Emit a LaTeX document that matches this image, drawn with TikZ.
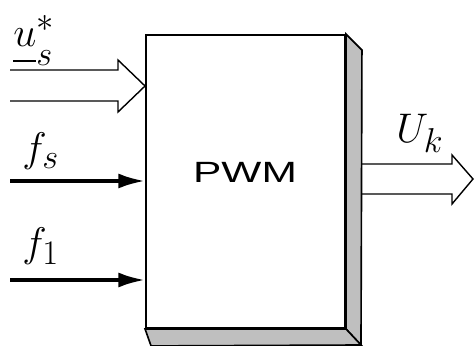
\documentclass[tikz,border=0pt]{standalone}
\usepackage{amsmath}
\usepackage{fontspec}
\newfontfamily\pwmfont{Liberation Sans}
\usepackage{tikz}
\usetikzlibrary{positioning, arrows.meta, calc}

\tikzset{
  sig/.style={line width=3.2pt, -{Latex[length=0.8cm, width=0.45cm]}},
  bus/.style={line width=1.2pt, line join=miter},
  lbl/.style={anchor=base west, inner sep=0pt, font=\Huge, scale=1.42}
}

\begin{document}
\begin{tikzpicture}[x=0.03cm, y=-0.03cm]
  \useasboundingbox (0, 0) rectangle (475, 346);

  \node[draw, line width=1.6pt, minimum width=5.97cm, minimum height=8.79cm, inner sep=0pt] (pwm) at (245.5, 181.5) {};
  \draw[line width=1.4pt, fill=gray!50] (pwm.north east) -- ++(16, 16) -- (361, 345) -- (pwm.south east) -- cycle;
  \draw[line width=1.4pt, fill=gray!50] (pwm.south west) -- ++(6, 17) -- (361, 345) -- (pwm.south east) -- cycle;
  \node[font=\pwmfont\fontsize{25}{30}\selectfont, xscale=1.45] (name) at (245, 172) {PWM};

  \coordinate (uin) at (10, 86);
  \draw[bus] ($(uin)+(0, -16)$) -- (118, 70) -- (118, 60) -- (pwm.west |- uin) -- (118, 112) -- (118, 101) -- ($(uin)+(0, 15)$);
  \node[lbl] (ulbl) at (13, 47) {$\underline{u\rule[-0.2em]{0pt}{0pt}}_s^{*}$};

  \coordinate (fsin) at (10, 181);
  \draw[sig] (fsin) -- (pwm.west |- fsin);
  \node[lbl] (fslbl) at (22, 162) {$f_s$};

  \coordinate (f1in) at (10, 280);
  \draw[sig] (f1in) -- (pwm.west |- f1in);
  \node[lbl] (f1lbl) at (22, 257) {$f_1$};

  \coordinate (uout) at (473, 179);
  \draw[bus] (361, 164) -- (452, 164) -- (452, 155) -- (uout) -- (452, 204) -- (452, 194) -- (361, 194);
  \node[lbl] (uklbl) at (396, 143) {$U_k$};
\end{tikzpicture}
\end{document}
